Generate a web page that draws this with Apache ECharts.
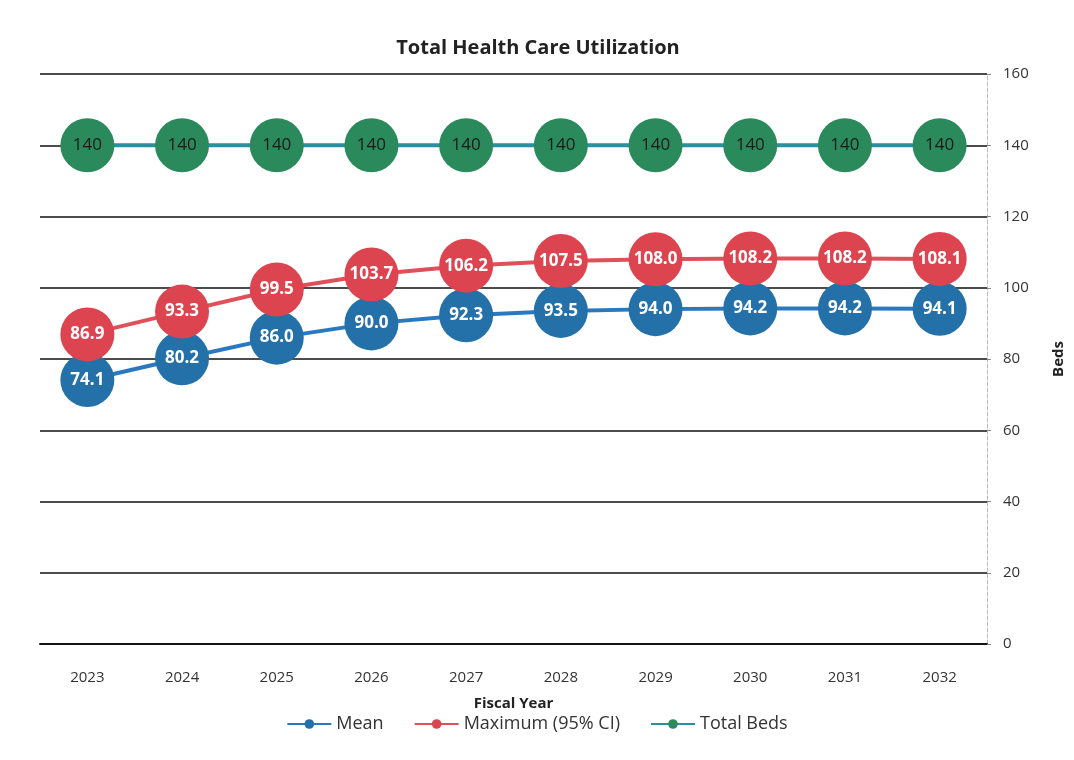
<!DOCTYPE html>
<html>
<head>
<meta charset="utf-8">
<title>Total Health Care Utilization</title>
<script src="https://cdn.jsdelivr.net/npm/echarts@6/dist/echarts.min.js"></script>
<style>
  html, body { margin: 0; padding: 0; background: #fff; }
  #chart { width: 1074px; height: 760px; }
</style>
</head>
<body>
<div id="chart"></div>
<script>
// fiscal years on the x axis
const years = ["2023", "2024", "2025", "2026", "2027", "2028", "2029", "2030", "2031", "2032"];
// beds
const meanBeds = [74.1, 80.2, 86.0, 90.0, 92.3, 93.5, 94.0, 94.2, 94.2, 94.1];
const maxBeds = [86.9, 93.3, 99.5, 103.7, 106.2, 107.5, 108.0, 108.2, 108.2, 108.1];
const totalBeds = [140, 140, 140, 140, 140, 140, 140, 140, 140, 140];

const font = "'Open Sans', 'Liberation Sans', sans-serif";

function makeSeries(name, data, color, lineColor, labelColor, digits) {
  return {
    name: name,
    type: "line",
    data: data,
    symbol: "circle",
    symbolSize: 54,
    color: color,
    itemStyle: { color: color },
    lineStyle: { color: lineColor, width: 4 },
    label: {
      show: true,
      position: "inside",
      color: labelColor,
      fontFamily: font,
      fontSize: 17,
      fontWeight: digits ? "bold" : "normal",
      formatter: function (p) {
        return digits ? p.value.toFixed(1) : String(p.value);
      },
    },
    emphasis: { disabled: true },
    animation: false,
  };
}

const myChart = echarts.init(document.getElementById("chart"));
const option = {
  backgroundColor: "#ffffff",
  textStyle: { fontFamily: font },
  title: {
    text: "Total Health Care Utilization",
    left: 533,
    top: 33,
    textAlign: "center",
    textStyle: { fontFamily: font, fontSize: 20, fontWeight: "bold", color: "#222" },
  },
  legend: {
    bottom: 22,
    left: "center",
    itemWidth: 44,
    itemHeight: 12,
    itemGap: 30,
    textStyle: { fontFamily: font, fontSize: 18, color: "#333" },
    data: ["Mean", "Maximum (95% CI)", "Total Beds"],
  },
  grid: { left: 40, right: 74, top: 74, bottom: 116, containLabel: false },
  xAxis: {
    type: "category",
    data: years,
    boundaryGap: true,
    name: "Fiscal Year",
    nameLocation: "middle",
    nameGap: 52,
    nameTextStyle: { fontFamily: font, fontSize: 15, fontWeight: "bold", color: "#222" },
    axisLine: { show: true, lineStyle: { color: "#111", width: 2 } },
    axisTick: { show: false },
    axisLabel: { fontFamily: font, fontSize: 15, color: "#333", margin: 26 },
  },
  yAxis: {
    type: "value",
    position: "right",
    min: 0,
    max: 160,
    interval: 20,
    name: "Beds",
    nameLocation: "middle",
    nameGap: 64,
    nameRotate: 90,
    nameTextStyle: { fontFamily: font, fontSize: 15, fontWeight: "bold", color: "#222" },
    axisLine: { show: true, lineStyle: { color: "#bbb", width: 1, type: "dashed" } },
    axisTick: { show: true, length: 4, lineStyle: { color: "#888" } },
    axisLabel: { fontFamily: font, fontSize: 15, color: "#333", margin: 16 },
    splitLine: { show: true, lineStyle: { color: "#111", width: 1.5 } },
  },
  series: [
    makeSeries("Mean", meanBeds, "#2470a8", "#2a78c0", "#ffffff", true),
    makeSeries("Maximum (95% CI)", maxBeds, "#dc4450", "#e0505a", "#ffffff", true),
    makeSeries("Total Beds", totalBeds, "#2b8a5c", "#2a8fa0", "#1a1a1a", false),
  ],
};
option && myChart.setOption(option, true);
</script>
</body>
</html>
